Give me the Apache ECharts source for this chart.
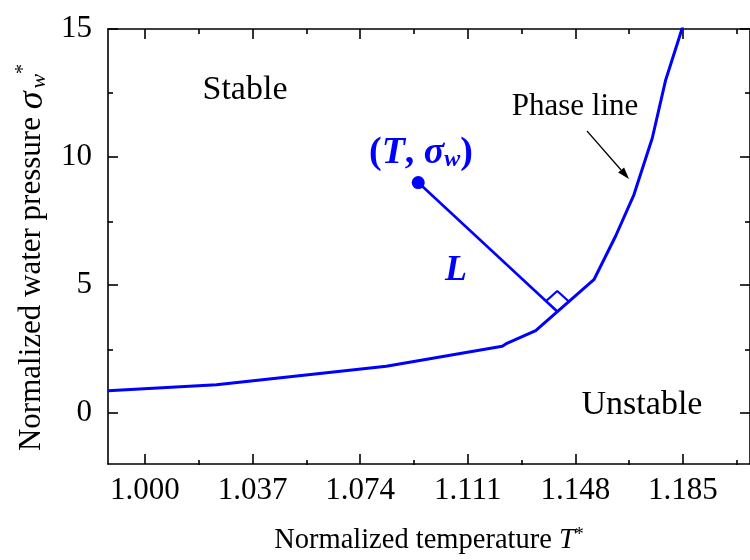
<!DOCTYPE html>
<html><head><meta charset="utf-8">
<script src="https://cdn.jsdelivr.net/npm/echarts@6/dist/echarts.min.js"></script>
<style>html,body{margin:0;padding:0;background:#fff}#c{width:750px;height:560px}</style>
</head><body><div id="c"></div>
<script>
// ---- data ----
const xTicks = [1.000, 1.037, 1.074, 1.111, 1.148, 1.185];
const xMinorTicks = [1.0185, 1.0555, 1.0925, 1.1295, 1.1665, 1.2035];
const yTicks = [0, 5, 10, 15];
const yMinorTicks = [2.5, 7.5, 12.5];
const phaseT = [0.9873, 1.0246, 1.0830, 1.1229, 1.1241, 1.1344, 1.1545, 1.1619, 1.1682, 1.1745, 1.1791, 1.1847, 1.1867];
const phaseS = [0.86, 1.10, 1.82, 2.60, 2.69, 3.21, 5.22, 6.91, 8.53, 10.74, 13.01, 15.0, 15.9];
const pointT = [1.0940];
const pointS = [9.0];
const footT = [1.1419];
const footS = [3.95];
const markT = [1.1378, 1.1418, 1.1459];
const markS = [4.35, 4.76, 4.34];

const FONT = 'Liberation Serif';
const BLUE = '#0000ff';
const X_MIN = 0.9873, X_MAX = 1.2081, Y_MIN = -2, Y_MAX = 15;

const zip = (a, b) => a.map((v, i) => [v, b[i]]);

const chart = echarts.init(document.getElementById('c'), null, {renderer: 'canvas'});

const tickStyle = {color: '#000', width: 1.6};
function ax(kind, grid, extra) {
  const o = {
    type: 'value', gridIndex: grid,
    min: kind === 'x' ? X_MIN : Y_MIN, max: kind === 'x' ? X_MAX : Y_MAX,
    splitLine: {show: false},
    axisLabel: {show: false}
  };
  Object.assign(o, extra);
  o.axisLine = Object.assign({show: true, onZero: false, lineStyle: {color: '#000', width: 1.6}}, extra.axisLine || {});
  return o;
}
const gridBox = {left: 108, top: 29, width: 643, height: 436, containLabel: false};

const option = {
  backgroundColor: '#fff',
  animation: false,
  grid: [Object.assign({}, gridBox), Object.assign({}, gridBox)],
  xAxis: [
    ax('x', 0, {
      position: 'bottom',
      name: 'Normalized temperature {i|T}{sup|*}',
      nameLocation: 'middle', nameGap: 62,
      nameTextStyle: {fontFamily: FONT, fontSize: 28.5, color: '#000',
        rich: {i: {fontFamily: FONT, fontSize: 28.5, fontStyle: 'italic', color: '#000'},
               sup: {fontFamily: FONT, fontSize: 18, color: '#000', verticalAlign: 'top'}}},
      axisTick: {show: true, inside: true, length: 10, customValues: xTicks, lineStyle: tickStyle},
      axisLabel: {show: true, customValues: xTicks, margin: 11, fontFamily: FONT, fontSize: 31, color: '#000',
        formatter: v => v.toFixed(3)}
    }),
    ax('x', 0, {position: 'top',
      axisTick: {show: true, inside: true, length: 10, customValues: xTicks, lineStyle: tickStyle}}),
    ax('x', 1, {position: 'bottom', axisLine: {show: false},
      axisTick: {show: true, inside: true, length: 5, customValues: xMinorTicks, lineStyle: tickStyle}}),
    ax('x', 1, {position: 'top', axisLine: {show: false},
      axisTick: {show: true, inside: true, length: 5, customValues: xMinorTicks, lineStyle: tickStyle}})
  ],
  yAxis: [
    ax('y', 0, {
      position: 'left',
      name: 'Normalized water pressure {s|σ}{sub|w}{sup|*}',
      nameLocation: 'middle', nameGap: 52, nameRotate: 90,
      nameTextStyle: {fontFamily: FONT, fontSize: 31, color: '#000', padding: [0, 22, 0, 0],
        rich: {s: {fontFamily: FONT, fontSize: 36, fontStyle: 'italic', color: '#000'},
               sub: {fontFamily: FONT, fontSize: 22, fontStyle: 'italic', color: '#000', verticalAlign: 'bottom', padding: [0, 0, 0, 3]},
               sup: {fontFamily: FONT, fontSize: 20, color: '#000', verticalAlign: 'top'}}},
      axisTick: {show: true, inside: true, length: 10, customValues: yTicks, lineStyle: tickStyle},
      axisLabel: {show: true, customValues: yTicks, margin: 16, fontFamily: FONT, fontSize: 31, color: '#000'}
    }),
    ax('y', 0, {position: 'right',
      axisTick: {show: true, inside: true, length: 10, customValues: yTicks, lineStyle: tickStyle}}),
    ax('y', 1, {position: 'left', axisLine: {show: false},
      axisTick: {show: true, inside: true, length: 5, customValues: yMinorTicks, lineStyle: tickStyle}}),
    ax('y', 1, {position: 'right', axisLine: {show: false},
      axisTick: {show: true, inside: true, length: 5, customValues: yMinorTicks, lineStyle: tickStyle}})
  ],
  series: [
    {
      name: 'Phase line', type: 'line', xAxisIndex: 0, yAxisIndex: 0,
      data: zip(phaseT, phaseS), showSymbol: false, symbol: 'none', clip: true,
      lineStyle: {color: BLUE, width: 3}
    },
    {
      name: 'L', type: 'line', xAxisIndex: 0, yAxisIndex: 0,
      data: zip(pointT.concat(footT), pointS.concat(footS)), symbol: 'none',
      lineStyle: {color: BLUE, width: 2.6}
    },
    {
      name: 'right angle', type: 'line', xAxisIndex: 0, yAxisIndex: 0,
      data: zip(markT, markS), symbol: 'none',
      lineStyle: {color: BLUE, width: 2.2}
    },
    {
      name: 'point', type: 'scatter', xAxisIndex: 0, yAxisIndex: 0,
      data: zip(pointT, pointS), symbol: 'circle', symbolSize: 13,
      itemStyle: {color: BLUE, opacity: 1}
    }
  ],
  graphic: [
    {type: 'text', x: 245, y: 90, style: {text: 'Stable', font: '34px "Liberation Serif"', fill: '#000', align: 'center', verticalAlign: 'middle'}},
    {type: 'text', x: 642, y: 405, style: {text: 'Unstable', font: '34px "Liberation Serif"', fill: '#000', align: 'center', verticalAlign: 'middle'}},
    {type: 'text', x: 575, y: 107, style: {text: 'Phase line', font: '31px "Liberation Serif"', fill: '#000', align: 'center', verticalAlign: 'middle'}},
    {type: 'line', shape: {x1: 587, y1: 131, x2: 621.1, y2: 170.0}, style: {stroke: '#000', lineWidth: 1.2}},
    {type: 'polygon', shape: {points: [[629, 179], [618.1, 172.6], [624.1, 167.4]]}, style: {fill: '#000'}},
    {type: 'text', x: 421, y: 153, style: {
      text: '{b|(}{bi|T}{b|, }{bi|σ}{sub|w}{b|)}', align: 'center', verticalAlign: 'middle',
      rich: {
        b: {fontFamily: FONT, fontSize: 38, fontWeight: 'bold', fill: BLUE, color: BLUE},
        bi: {fontFamily: FONT, fontSize: 38, fontWeight: 'bold', fontStyle: 'italic', fill: BLUE, color: BLUE},
        sub: {fontFamily: FONT, fontSize: 24, fontWeight: 'bold', fontStyle: 'italic', fill: BLUE, color: BLUE, verticalAlign: 'bottom'}
      }}},
    {type: 'text', x: 456, y: 271, style: {text: 'L', font: 'italic bold 36px "Liberation Serif"', fill: BLUE, align: 'center', verticalAlign: 'middle'}}
  ]
};
chart.setOption(option);
</script>
</body></html>
